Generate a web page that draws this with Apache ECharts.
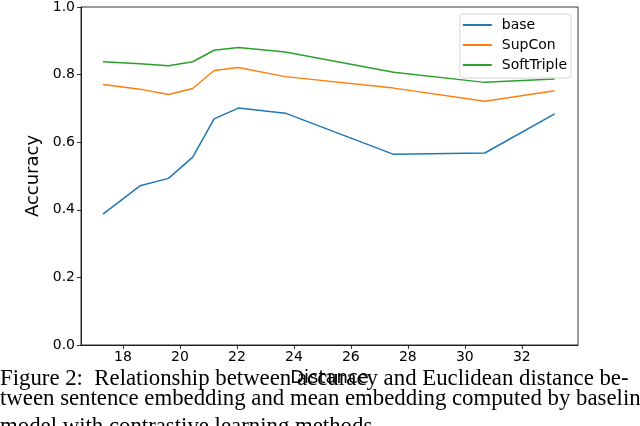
<!DOCTYPE html>
<html>
<head>
<meta charset="utf-8">
<script src="https://cdn.jsdelivr.net/npm/echarts@6/dist/echarts.min.js"></script>
<style>
html,body{margin:0;padding:0;background:#fff;}
#chart{width:640px;height:426px;}
</style>
</head>
<body>
<div id="chart"></div>
<script>
const distance = [17.3, 18.6, 19.6, 20.45, 21.2, 22.05, 23.7, 27.5, 30.7, 33.15];
const baseAcc = [0.387, 0.471, 0.493, 0.556, 0.669, 0.701, 0.686, 0.564, 0.568, 0.684];
const supConAcc = [0.771, 0.757, 0.741, 0.759, 0.812, 0.821, 0.794, 0.760, 0.721, 0.752];
const softTripleAcc = [0.838, 0.832, 0.826, 0.838, 0.872, 0.880, 0.867, 0.807, 0.777, 0.787];
const xTicks = [18, 20, 22, 24, 26, 28, 30, 32];
const seriesNames = ['base', 'SupCon', 'SoftTriple'];
const captionLines = [
  'Figure 2:  Relationship between accuracy and Euclidean distance be-',
  'tween sentence embedding and mean embedding computed by baseline',
  'model with contrastive learning methods.'
];
const captionTops = [368, 388, 416];

const colors = ['#1f77b4', '#ff7f0e', '#2ca02c'];
const allY = [baseAcc, supConAcc, softTripleAcc];
const font = 'DejaVu Sans';

const chart = echarts.init(document.getElementById('chart'), null, {renderer: 'canvas'});
chart.setOption({
  animation: false,
  backgroundColor: '#fff',
  grid: {left: 81, top: 5, right: 62, bottom: 81, show: true, borderColor: '#000', borderWidth: 0.8, backgroundColor: 'transparent'},
  legend: {
    orient: 'vertical', right: 69, top: 14,
    data: seriesNames.map((n, i) => ({name: n, icon: 'rect', itemStyle: {color: colors[i]}})),
    itemWidth: 29, itemHeight: 2, itemGap: 6,
    padding: [4, 4, 6, 3],
    borderColor: '#d6d6d6', borderWidth: 1, borderRadius: 3,
    backgroundColor: 'rgba(255,255,255,0.8)',
    textStyle: {fontFamily: font, fontSize: 14, color: '#000', lineHeight: 14, padding: [0, 0, 0, 5]}
  },
  xAxis: {
    type: 'value', min: 16.53, max: 33.97,
    name: 'Distance', nameLocation: 'middle', nameGap: 20,
    nameTextStyle: {fontFamily: font, fontSize: 18, color: '#000'},
    axisLine: {show: true, onZero: false, lineStyle: {color: '#000', width: 0.8}},
    axisTick: {show: true, inside: false, length: 4, customValues: xTicks, lineStyle: {color: '#000', width: 0.8}},
    axisLabel: {customValues: xTicks, fontFamily: font, fontSize: 14, color: '#000', margin: 5},
    splitLine: {show: false}
  },
  yAxis: {
    type: 'value', min: 0, max: 1, interval: 0.2,
    name: 'Accuracy', nameLocation: 'middle', nameGap: 32, nameRotate: 90,
    nameTextStyle: {fontFamily: font, fontSize: 18, color: '#000'},
    axisLine: {show: true, lineStyle: {color: '#000', width: 0.8}},
    axisTick: {show: true, inside: false, length: 4, lineStyle: {color: '#000', width: 0.8}},
    axisLabel: {fontFamily: font, fontSize: 14, color: '#000', margin: 6, formatter: v => v.toFixed(1)},
    splitLine: {show: false}
  },
  series: seriesNames.map((n, i) => ({
    name: n, type: 'line', showSymbol: false, symbol: 'none',
    data: distance.map((d, j) => [d, allY[i][j]]),
    lineStyle: {color: colors[i], width: 1.5},
    itemStyle: {color: colors[i]}
  })),
  graphic: captionLines.map((t, i) => ({
    type: 'text', left: 0, top: captionTops[i], z: 100,
    style: {text: t, font: '22.8px "Liberation Serif"', fill: '#000'}
  }))
});
</script>
</body>
</html>
